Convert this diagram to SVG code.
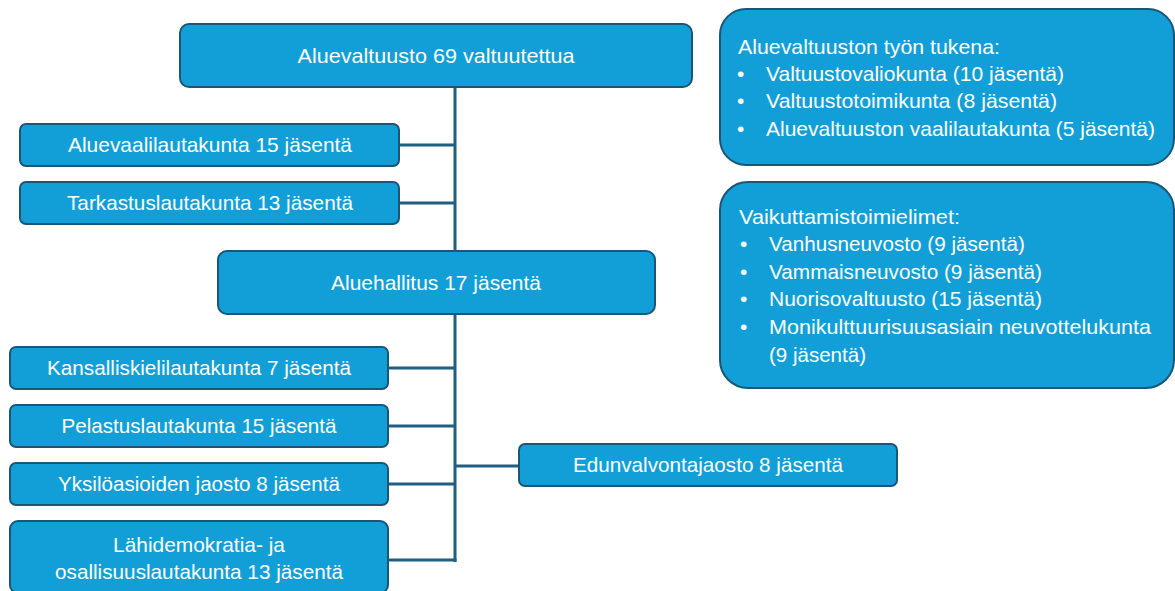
<svg xmlns="http://www.w3.org/2000/svg" width="1175" height="591" viewBox="0 0 1175 591">
<style>
.box{fill:#129fd7;stroke:#1b5675;stroke-width:2}
.t{font-family:"Liberation Sans",Arial,sans-serif;font-size:21px;fill:#ffffff}
.c{text-anchor:middle}
.ln{stroke:#1f5f80;stroke-width:3;fill:none}
</style>
<rect width="1175" height="591" fill="#ffffff"/>
<g id="connectors">
<line class="ln" x1="455" y1="87" x2="455" y2="562"/>
<line class="ln" x1="399" y1="145" x2="455" y2="145"/>
<line class="ln" x1="399" y1="203" x2="455" y2="203"/>
<line class="ln" x1="388" y1="368" x2="455" y2="368"/>
<line class="ln" x1="388" y1="426" x2="455" y2="426"/>
<line class="ln" x1="388" y1="484" x2="455" y2="484"/>
<line class="ln" x1="388" y1="560" x2="456.5" y2="560"/>
<line class="ln" x1="455" y1="466" x2="519" y2="466"/>
</g>
<g id="aluevaltuusto">
<rect class="box" x="180" y="24" width="512" height="63" rx="9"/>
<text class="t c" x="436" y="63" textLength="277" lengthAdjust="spacingAndGlyphs">Aluevaltuusto 69 valtuutettua</text>
</g>
<g id="aluevaalilautakunta">
<rect class="box" x="20" y="124" width="379" height="42" rx="6"/>
<text class="t c" x="210" y="152" textLength="284" lengthAdjust="spacingAndGlyphs">Aluevaalilautakunta 15 jäsentä</text>
</g>
<g id="tarkastuslautakunta">
<rect class="box" x="20" y="182" width="379" height="42" rx="6"/>
<text class="t c" x="210" y="210" textLength="286" lengthAdjust="spacingAndGlyphs">Tarkastuslautakunta 13 jäsentä</text>
</g>
<g id="aluehallitus">
<rect class="box" x="218" y="251" width="437" height="63" rx="9"/>
<text class="t c" x="436" y="290" textLength="210" lengthAdjust="spacingAndGlyphs">Aluehallitus 17 jäsentä</text>
</g>
<g id="kansalliskielilautakunta">
<rect class="box" x="10" y="347" width="378" height="42" rx="6"/>
<text class="t c" x="199" y="375" textLength="304" lengthAdjust="spacingAndGlyphs">Kansalliskielilautakunta 7 jäsentä</text>
</g>
<g id="pelastuslautakunta">
<rect class="box" x="10" y="405" width="378" height="42" rx="6"/>
<text class="t c" x="199" y="433" textLength="275" lengthAdjust="spacingAndGlyphs">Pelastuslautakunta 15 jäsentä</text>
</g>
<g id="yksiloasioiden">
<rect class="box" x="10" y="463" width="378" height="42" rx="6"/>
<text class="t c" x="199" y="491" textLength="282" lengthAdjust="spacingAndGlyphs">Yksilöasioiden jaosto 8 jäsentä</text>
</g>
<g id="lahidemokratia">
<rect class="box" x="10" y="521" width="378" height="72" rx="8"/>
<text class="t c" x="199" y="552" textLength="172" lengthAdjust="spacingAndGlyphs">Lähidemokratia- ja</text>
<text class="t c" x="199" y="579" textLength="288" lengthAdjust="spacingAndGlyphs">osallisuuslautakunta 13 jäsentä</text>
</g>
<g id="edunvalvontajaosto">
<rect class="box" x="519" y="444" width="378" height="42" rx="6"/>
<text class="t c" x="708" y="472" textLength="270" lengthAdjust="spacingAndGlyphs">Edunvalvontajaosto 8 jäsentä</text>
</g>
<g id="tyon-tukena">
<rect class="box" x="720" y="9" width="454" height="156" rx="26"/>
<text class="t" x="738" y="54" textLength="262" lengthAdjust="spacingAndGlyphs">Aluevaltuuston työn tukena:</text>
<text class="t" x="737" y="81">•</text>
<text class="t" x="766" y="81" textLength="298" lengthAdjust="spacingAndGlyphs">Valtuustovaliokunta (10 jäsentä)</text>
<text class="t" x="737" y="108">•</text>
<text class="t" x="766" y="108" textLength="291" lengthAdjust="spacingAndGlyphs">Valtuustotoimikunta (8 jäsentä)</text>
<text class="t" x="737" y="136">•</text>
<text class="t" x="766" y="136" textLength="389" lengthAdjust="spacingAndGlyphs">Aluevaltuuston vaalilautakunta (5 jäsentä)</text>
</g>
<g id="vaikuttamistoimielimet">
<rect class="box" x="720" y="182" width="454" height="206" rx="28"/>
<text class="t" x="739" y="224" textLength="221" lengthAdjust="spacingAndGlyphs">Vaikuttamistoimielimet:</text>
<text class="t" x="740" y="251">•</text>
<text class="t" x="769" y="251" textLength="256" lengthAdjust="spacingAndGlyphs">Vanhusneuvosto (9 jäsentä)</text>
<text class="t" x="740" y="279">•</text>
<text class="t" x="769" y="279" textLength="273" lengthAdjust="spacingAndGlyphs">Vammaisneuvosto (9 jäsentä)</text>
<text class="t" x="740" y="306">•</text>
<text class="t" x="769" y="306" textLength="273" lengthAdjust="spacingAndGlyphs">Nuorisovaltuusto (15 jäsentä)</text>
<text class="t" x="740" y="334">•</text>
<text class="t" x="769" y="334" textLength="382" lengthAdjust="spacingAndGlyphs">Monikulttuurisuusasiain neuvottelukunta</text>
<text class="t" x="769" y="362" textLength="97" lengthAdjust="spacingAndGlyphs">(9 jäsentä)</text>
</g>
</svg>
